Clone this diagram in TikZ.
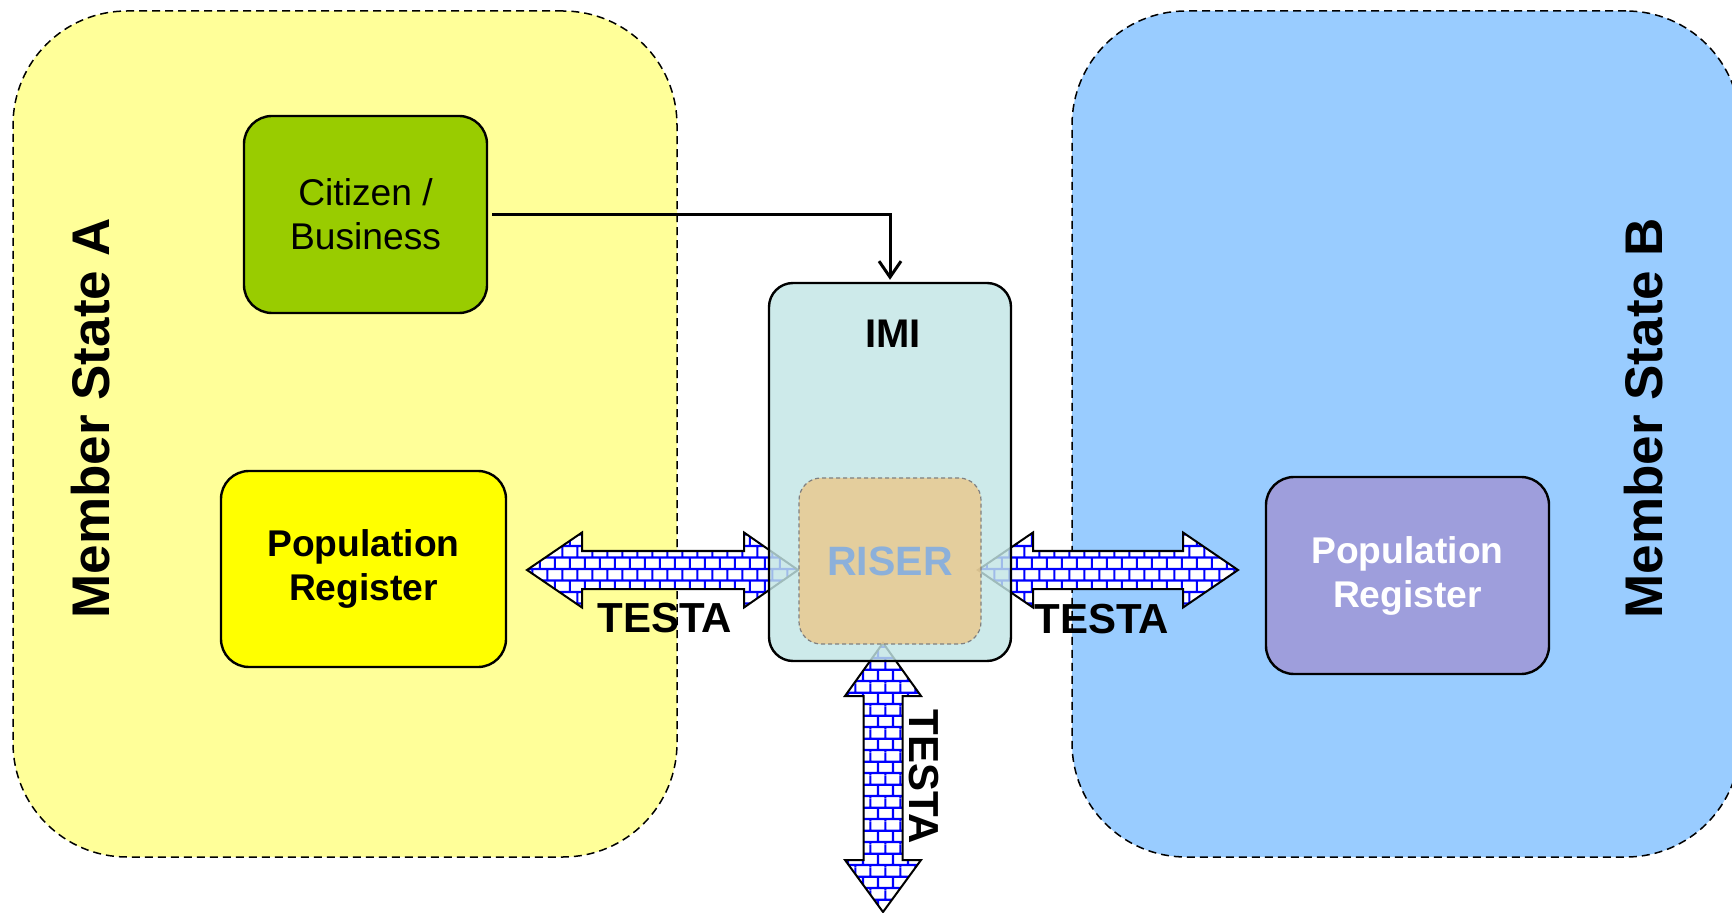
\documentclass[tikz,border=0pt]{standalone}
\usepackage{fontspec}
\setmainfont{Liberation Sans}
\usetikzlibrary{patterns,arrows.meta}
\pgfdeclarepatternformonly{testabricks}{\pgfqpoint{0pt}{0pt}}{\pgfqpoint{7.7pt}{11.4pt}}{\pgfqpoint{7.7pt}{11.4pt}}{%
 \pgfsetlinewidth{1.1pt}%
 \pgfpathmoveto{\pgfqpoint{0pt}{1pt}}\pgfpathlineto{\pgfqpoint{7.7pt}{1pt}}%
 \pgfpathmoveto{\pgfqpoint{0pt}{6.7pt}}\pgfpathlineto{\pgfqpoint{7.7pt}{6.7pt}}%
 \pgfpathmoveto{\pgfqpoint{1pt}{1pt}}\pgfpathlineto{\pgfqpoint{1pt}{6.7pt}}%
 \pgfpathmoveto{\pgfqpoint{4.85pt}{6.7pt}}\pgfpathlineto{\pgfqpoint{4.85pt}{11.4pt}}%
 \pgfpathmoveto{\pgfqpoint{4.85pt}{0pt}}\pgfpathlineto{\pgfqpoint{4.85pt}{1pt}}%
 \pgfusepath{stroke}}
\definecolor{stateA}{HTML}{FFFF99}
\definecolor{stateB}{HTML}{99CCFF}
\definecolor{citizen}{HTML}{99CC00}
\definecolor{popA}{HTML}{FFFF00}
\definecolor{popB}{HTML}{9E9EDC}
\definecolor{imi}{HTML}{C2E5E5}
\definecolor{riser}{HTML}{EEC27C}
\definecolor{riserText}{HTML}{8CB0DA}
\begin{document}
\begin{tikzpicture}[x=0.5pt,y=-0.5pt,
  state/.style={draw, dash pattern=on 4pt off 2.5pt, line width=0.75pt, rounded corners=57pt},
  box/.style={draw, line width=1.2pt, rounded corners=14pt, align=center, inner sep=0pt},
  regfont/.style={font=\fontsize{18.6}{22}\selectfont},
  boldfont/.style={font=\fontsize{18.6}{22}\selectfont\bfseries},
  testa/.style={draw, line width=1pt, preaction={fill=white}, pattern=testabricks, pattern color=blue},
  lbl/.style={font=\fontsize{21}{25}\selectfont\bfseries},
  msl/.style={font=\fontsize{26.5}{30}\selectfont\bfseries}]
\clip (0,0) rectangle (1732,913);
% member states
\node[state, fill=stateA, minimum width=332pt, minimum height=423pt] (msA) at (345,434) {};
\node[state, fill=stateB, minimum width=334pt, minimum height=423pt] (msB) at (1406,434) {};
\node[msl, rotate=90] (labA) at (91,418) {Member State A};
\node[msl, rotate=90] (labB) at (1644,418) {Member State B};
% boxes
\node[box, regfont, fill=citizen, minimum width=121.5pt, minimum height=98.5pt] (cit) at (365.5,214.5) {Citizen /\\Business};
\node[box, boldfont, fill=popA, minimum width=142.5pt, minimum height=98pt] (pA) at (363.5,569) {Population\\Register};
\node[box, boldfont, fill=popB, text=white, minimum width=141.5pt, minimum height=98.5pt] (pB) at (1407.5,575.5) {Population\\Register};
% TESTA arrows
\draw[testa] (527,570) -- (582,532.5) -- (582,551) -- (744,551) -- (744,532.5) -- (798,570) -- (744,607.5) -- (744,589) -- (582,589) -- (582,607.5) -- cycle;
\draw[testa] (978,570) -- (1033,532.5) -- (1033,551) -- (1183,551) -- (1183,532.5) -- (1238,570) -- (1183,607.5) -- (1183,589) -- (1033,589) -- (1033,607.5) -- cycle;
\draw[testa] (883,643) -- (921,696) -- (902.5,696) -- (902.5,860) -- (921,860) -- (883,912) -- (845,860) -- (863.5,860) -- (863.5,696) -- (845,696) -- cycle;
\node[lbl] (tL) at (665,618) {TESTA};
\node[lbl] (tR) at (1102,619) {TESTA};
\node[lbl, rotate=-90] (tB) at (924,777) {TESTA};
% IMI and RISER
\node[box, fill=imi, fill opacity=0.82, rounded corners=12pt, minimum width=121pt, minimum height=189pt] (imi) at (890,472) {};
\node[draw=gray, dash pattern=on 2pt off 1.5pt, line width=0.6pt, fill=riser, fill opacity=0.7, rounded corners=11pt, minimum width=91pt, minimum height=83pt] (riser) at (890,561) {};
\node[font=\fontsize{20}{24}\selectfont\bfseries] (imiL) at (893,334) {IMI};
\node[font=\fontsize{20.5}{24}\selectfont\bfseries, text=riserText] (riserL) at (890,561) {RISER};
% citizen connector
\draw[line width=1.5pt, -{Straight Barb[length=8pt,width=11pt]}, shorten <=2pt, shorten >=1pt] (cit.east) -| (imi.north);
\end{tikzpicture}
\end{document}
